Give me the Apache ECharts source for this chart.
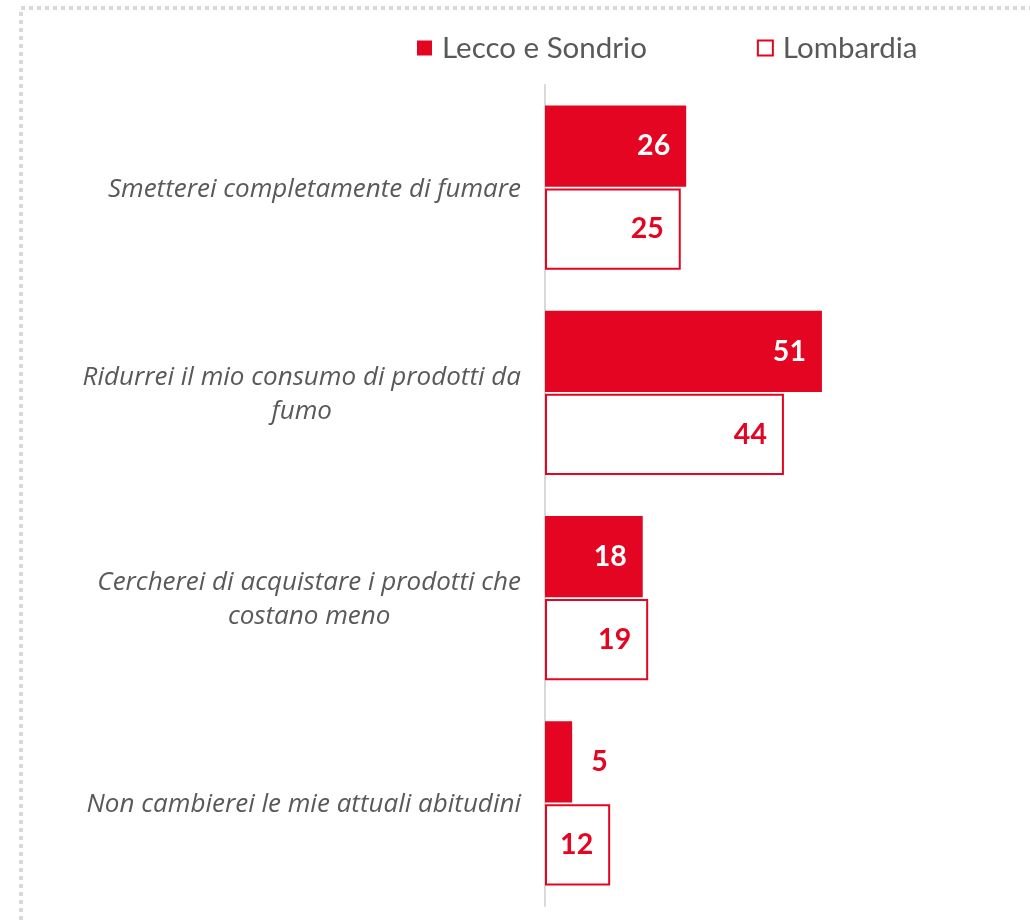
<!DOCTYPE html>
<html>
<head>
<meta charset="utf-8">
<script src="https://cdn.jsdelivr.net/npm/echarts@6/dist/echarts.min.js"></script>
<style>
  html, body { margin: 0; padding: 0; background: #fff; }
  #chart { width: 1030px; height: 921px; }
</style>
</head>
<body>
<div id="chart"></div>
<script>
var categories = [
    'Smetterei completamente di fumare',
    'Ridurrei il mio consumo di prodotti da\nfumo',
    'Cercherei di acquistare i prodotti che\ncostano meno',
    'Non cambierei le mie attuali abitudini'
];
var seriesNames = ['Lecco e Sondrio', 'Lombardia'];
var lecco = [26, 51, 18, 5];
var lombardia = [25, 44, 19, 12];

var RED = '#e30521';
var FONT = 'Lato';

// le barre troppo corte hanno l'etichetta fuori
function toData(values) {
    return values.map(function (v) {
        if (v < 8) {
            return { value: v, label: { position: 'right', color: RED, distance: 19 } };
        }
        return v;
    });
}

var chart = echarts.init(document.getElementById('chart'));
chart.setOption({
    animation: false,
    textStyle: { fontFamily: FONT },
    graphic: [{
        type: 'rect',
        silent: true,
        shape: { x: 21, y: 8, width: 1100, height: 1000 },
        style: { fill: 'none', stroke: '#d9d9d9', lineWidth: 4, lineDash: [4, 4] }
    }],
    legend: {
        left: 412,
        top: 28,
        itemWidth: 15,
        itemHeight: 15,
        itemGap: 110,
        icon: 'rect',
        textStyle: { fontFamily: FONT, fontSize: 29.5, color: '#595959', padding: [0, 0, 0, 5] },
        data: seriesNames
    },
    grid: {
        left: 545,
        top: 85,
        width: 434.4,
        bottom: 15,
        containLabel: false
    },
    xAxis: {
        type: 'value',
        min: 0,
        max: 80,
        show: false,
        splitLine: { show: false }
    },
    yAxis: {
        type: 'category',
        inverse: true,
        data: categories,
        axisTick: { show: false },
        axisLine: { lineStyle: { color: '#d9d9d9', width: 2 } },
        axisLabel: {
            margin: 24,
            formatter: function (v) { return '{c|' + v + '}'; },
            rich: {
                c: {
                    align: 'center',
                    fontFamily: 'Open Sans',
                    fontStyle: 'italic',
                    fontSize: 26,
                    lineHeight: 34,
                    padding: [3, 0, 0, 0],
                    color: '#595959'
                }
            }
        }
    },
    series: [{
        name: seriesNames[0],
        type: 'bar',
        barCategoryGap: '20%',
        barGap: '2%',
        itemStyle: { color: RED },
        label: {
            show: true,
            position: 'insideRight',
            distance: 16,
            color: '#fff',
            fontFamily: FONT,
            fontWeight: 'bold',
            fontSize: 28.5
        },
        data: toData(lecco)
    }, {
        name: seriesNames[1],
        type: 'bar',
        barCategoryGap: '20%',
        barGap: '2%',
        itemStyle: { color: '#fff', borderColor: RED, borderWidth: 2 },
        label: {
            show: true,
            position: 'insideRight',
            distance: 17,
            color: RED,
            fontFamily: FONT,
            fontWeight: 'bold',
            fontSize: 28.5
        },
        data: toData(lombardia)
    }]
});
</script>
</body>
</html>
